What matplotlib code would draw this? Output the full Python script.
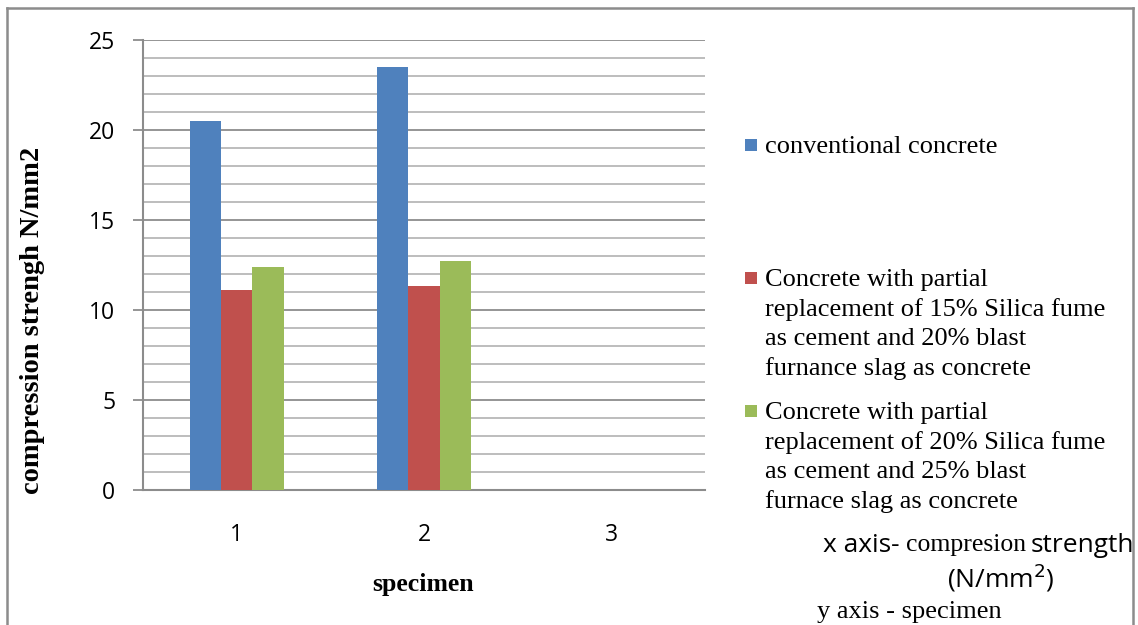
import numpy as np
import matplotlib.pyplot as plt
from matplotlib.lines import Line2D
from matplotlib.patches import Rectangle

specimens = ['1', '2', '3']
conventional = [20.5, 23.5, 0]
silica15_slag20 = [11.1, 11.35, 0]
silica20_slag25 = [12.4, 12.7, 0]

labels = ['conventional concrete',
          'Concrete with partial\nreplacement of 15% Silica fume\nas cement and 20% blast\nfurnance slag as concrete',
          'Concrete with partial\nreplacement of 20% Silica fume\nas cement and 25% blast\nfurnace slag as concrete']
colors = ['#4F81BD', '#C0504D', '#9BBB59']

W, H = 1138, 625
fig = plt.figure(figsize=(W / 100, H / 100), dpi=100)


def fx(px):
    return px / W


def fy(py):
    return 1 - py / H


ax = fig.add_axes([fx(143), fy(490), fx(705) - fx(143), fy(40) - fy(490)])

x = np.arange(len(specimens))
w = 0.167
series = [conventional, silica15_slag20, silica20_slag25]
for i, vals in enumerate(series):
    ax.bar(x + (i - 1) * w, vals, w, color=colors[i], zorder=3)

ax.set_xlim(-0.5, 2.5)
ax.set_ylim(0, 25)
ax.set_yticks(range(0, 26, 5))
ax.set_yticks(range(0, 26, 1), minor=True)
ax.set_xticks(x)
ax.set_xticklabels(specimens)
ax.grid(axis='y', which='major', color='#8c8c8c', lw=1.3, zorder=0)
ax.grid(axis='y', which='minor', color='#b8b8b8', lw=1.3, zorder=0)

for s in ['top', 'right']:
    ax.spines[s].set_visible(False)
for s in ['left', 'bottom']:
    ax.spines[s].set_color('#8c8c8c')
    ax.spines[s].set_linewidth(1.5)

ax.tick_params(axis='y', which='major', length=7, color='#8c8c8c', width=1.3, pad=13)
ax.tick_params(axis='y', which='minor', length=0)
ax.tick_params(axis='x', length=0, pad=24)
for lab in ax.get_yticklabels() + ax.get_xticklabels():
    lab.set_fontfamily('Open Sans')
    lab.set_fontsize(16.5)

fig.text(fx(33), fy(320), 'compression strengh N/mm2', rotation=90, ha='center', va='center',
         family='Liberation Serif', weight='bold', fontsize=20.5)
fig.text(fx(423), fy(585), 'specimen', ha='center', va='center',
         family='Liberation Serif', weight='bold', fontsize=18.5)

# legend drawn by hand to keep the spacing of the original
legend_y = [145, 278, 411]
for c, lab, ly in zip(colors, labels, legend_y):
    fig.add_artist(Rectangle((fx(745), fy(ly + 6)), fx(12), fy(ly - 6) - fy(ly + 6),
                             facecolor=c, edgecolor='none', transform=fig.transFigure))
    fig.text(fx(765), fy(ly - 9), lab, ha='left', va='top', family='Liberation Serif',
             fontsize=19, linespacing=1.4)

# axis note in the corner
fig.text(fx(823), fy(545), 'x axis-', ha='left', va='center', family='Open Sans', fontsize=19)
fig.text(fx(906), fy(545), 'compresion', ha='left', va='center', family='Liberation Serif', fontsize=18.5)
fig.text(fx(1031), fy(545), 'strength', ha='left', va='center', family='Open Sans', fontsize=19)
fig.text(fx(1001), fy(578), '(N/mm$^2$)', ha='center', va='center', family='Open Sans', fontsize=19)
fig.text(fx(817), fy(612), 'y axis - specimen', ha='left', va='center', family='Liberation Serif', fontsize=19)

# outer frame
frame = dict(color='#8c8c8c', lw=1.8, transform=fig.transFigure)
fig.add_artist(Line2D([fx(7), fx(7)], [fy(8), 0], **frame))
fig.add_artist(Line2D([fx(7), fx(1133)], [fy(8), fy(8)], **frame))
fig.add_artist(Line2D([fx(1133), fx(1133)], [fy(8), 0], **frame))

fig.savefig('out.png', dpi=100)
